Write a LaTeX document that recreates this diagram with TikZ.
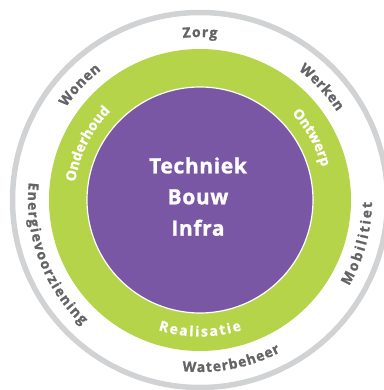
\documentclass[tikz,border=0pt]{standalone}
\usepackage{fontspec}
\setmainfont{Open Sans}
\usepackage{tikz}
\usetikzlibrary{decorations.text}
\usepackage{xcolor}

\definecolor{hubpurple}{RGB}{121,87,164}
\definecolor{cyclegreen}{RGB}{182,212,74}
\definecolor{ringgray}{RGB}{209,210,212}
\definecolor{fieldgray}{RGB}{100,100,102}

\newfontfamily\hubfamily{Open Sans}[LetterSpace=3, BoldFeatures={FakeBold=1.2}]
\newfontfamily\wheelfamily{Open Sans}[BoldFeatures={FakeBold=1.2}]
\newcommand{\fieldfont}{\wheelfamily\bfseries\fontsize{14}{14}\selectfont\color{fieldgray}}
\newcommand{\cyclefont}{\wheelfamily\bfseries\fontsize{14}{14}\selectfont\color{white}}

\begin{document}
\begin{tikzpicture}[
    x=1pt, y=1pt,
    hub/.style={font=\hubfamily\bfseries\fontsize{21}{21}\selectfont, text=white, anchor=base, inner sep=0pt},
    field top/.style={decorate, decoration={text along path, text align={fit to path}, text={|\fieldfont|#1}}},
    field bottom/.style={decorate, decoration={text along path, text align={fit to path}, text={|\fieldfont|#1}}},
    cycle text/.style={decorate, decoration={text along path, text align={fit to path}, text={|\cyclefont|#1}}}
]
  \useasboundingbox (-200,-190) rectangle (183,200);

  % --- RINGS ---
  \coordinate (c) at (0,0);
  \draw[ringgray, line width=5.5pt] (c) circle[radius=187.5];
  \fill[cyclegreen] (c) circle[radius=151];
  \filldraw[fill=hubpurple, draw=white, line width=1.2pt] (c) circle[radius=113];

  % --- CENTER ---
  \node[hub] (techniek) at (-2,26.7) {Techniek};
  \node[hub] (bouw) at (-2,-4.3) {Bouw};
  \node[hub] (infra) at (-2,-35.7) {Infra};

  % --- GREEN RING: process ---
  \path[cycle text=Onderhoud] (171.8:126) arc[start angle=171.8, end angle=135.2, radius=126];
  \path[cycle text=Ontwerp] (43.3:126) arc[start angle=43.3, end angle=15.7, radius=126];
  \path[cycle text=Realisatie] (-107.8:136.5) arc[start angle=-107.8, end angle=-72.2, radius=136.5];

  % --- OUTER RING: fields ---
  \path[field top=Zorg] (96:163) arc[start angle=96, end angle=84, radius=163];
  \path[field top=Wonen] (145.3:163) arc[start angle=145.3, end angle=127.3, radius=163];
  \path[field top=Werken] (52.8:163) arc[start angle=52.8, end angle=32.8, radius=163];
  \path[field bottom=Mobilitiet] (-30:172) arc[start angle=-30, end angle=-0.7, radius=172];
  \path[field bottom=Waterbeheer] (-95.9:172) arc[start angle=-95.9, end angle=-62.1, radius=172];
  \path[field bottom=Energievoorziening] (174.1:172) arc[start angle=174.1, end angle=226.7, radius=172];

\end{tikzpicture}
\end{document}
